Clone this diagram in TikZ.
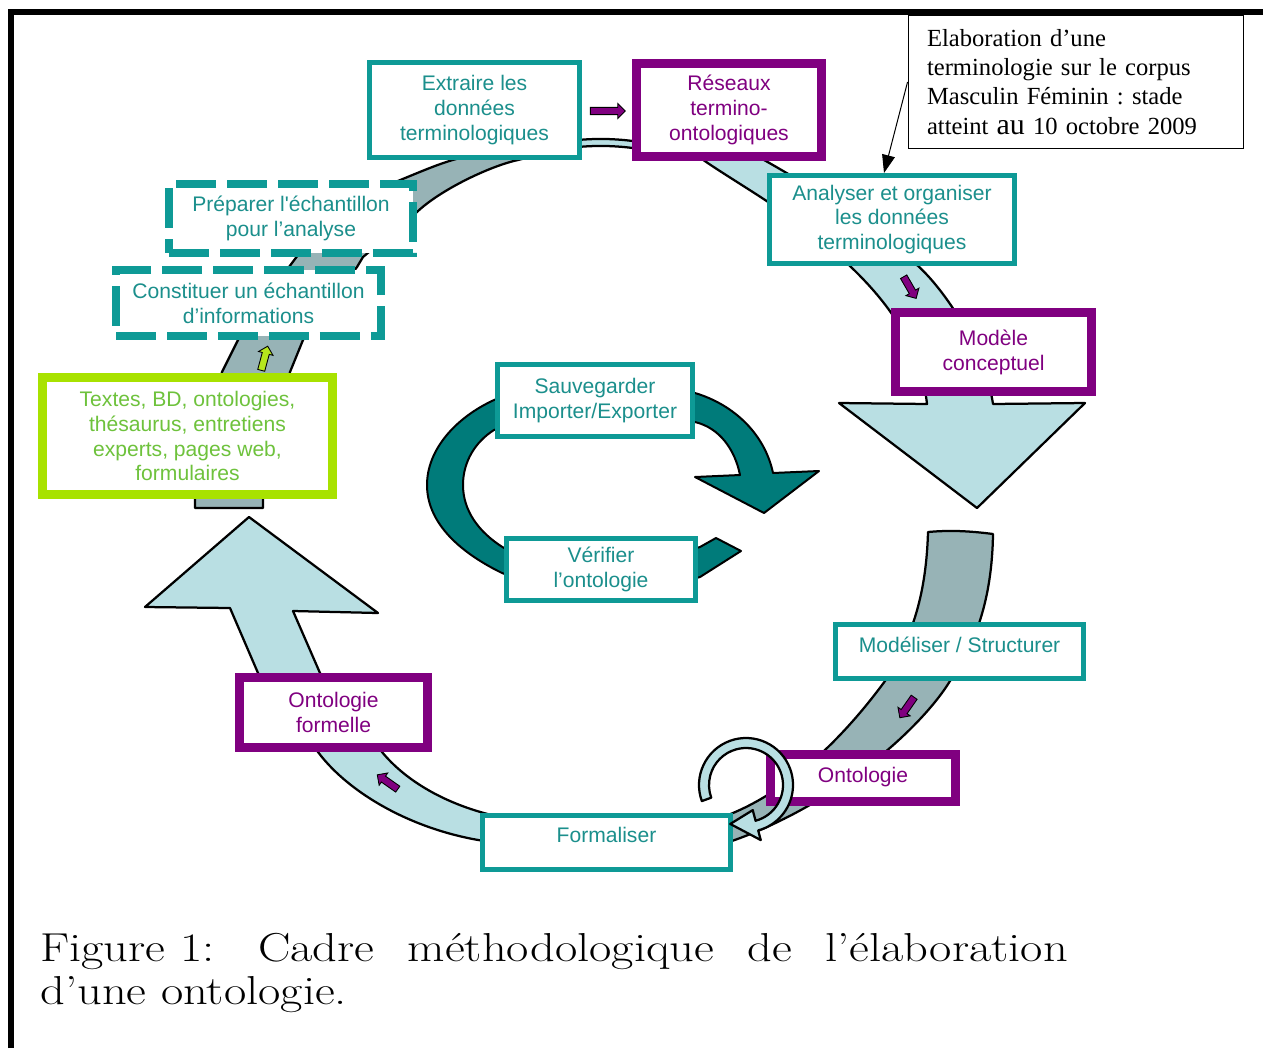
\documentclass[tikz,border=0pt]{standalone}
\usepackage{fontspec}
\newfontfamily\arialf{Liberation Sans}
\newfontfamily\timesf{Liberation Serif}
\usetikzlibrary{arrows.meta, positioning, shapes.arrows, calc}
\definecolor{tealb}{HTML}{0E9A96}
\definecolor{tealt}{HTML}{1B8F8C}
\definecolor{purp}{HTML}{800080}
\definecolor{limeb}{HTML}{A8E200}
\definecolor{limet}{HTML}{6EC23C}
\definecolor{bandgrey}{HTML}{97B3B6}
\definecolor{bandblue}{HTML}{B9DFE3}
\definecolor{ringteal}{HTML}{007B7A}
\definecolor{yarr}{HTML}{B5E61D}
\begin{document}
\begin{tikzpicture}[x=0.02cm, y=-0.02cm,
    tbox/.style={draw=tealb, line width=0.1cm, fill=white, text=tealt, align=center, inner sep=0pt, font=\arialf\fontsize{12}{14.2}\selectfont},
    pbox/.style={tbox, draw=purp, line width=0.18cm, text=purp},
    dbox/.style={tbox, line width=0.16cm, dash pattern=on 0.8cm off 0.22cm},
    gbox/.style={tbox, draw=limeb, line width=0.18cm, text=limet},
    gband/.style={fill=bandgrey, draw=black, line width=0.045cm, line join=round},
    lband/.style={gband, fill=bandblue},
    smallarr/.style={single arrow, draw=black, line width=0.5pt, fill=purp, inner sep=1.6pt, minimum height=0.5cm, minimum width=0.3cm, single arrow head extend=2pt}]

    \useasboundingbox (0,0) rectangle (1263,1048);

    \filldraw[gband] (195,508) -- (195,490) -- (222,372) -- (238,340) -- (289,267) -- (298,255)
        .. controls (330,215) and (365,195) .. (393,183) .. controls (420,172) and (440,163) .. (460,158)
        -- (540,142) -- (550,152) -- (518,160) .. controls (490,166) and (440,190) .. (417,212)
        -- (363,257) -- (357,267) -- (303,340) -- (290,372) -- (263,490) -- (263,508) -- cycle;
    \filldraw[lband] (578,140) .. controls (600,138) and (620,139) .. (640,142) -- (640,149)
        .. controls (620,146) and (600,145) .. (578,147) -- cycle;
    \filldraw[lband] (690,150) .. controls (720,175) and (800,215) .. (851,267)
        .. controls (880,295) and (920,340) .. (927,404) -- (839,403) -- (977,508) -- (1085,403) -- (993,404)
        .. controls (985,350) and (945,290) .. (917,265) .. controls (870,225) and (810,185) .. (755,155) -- cycle;
    \filldraw[gband] (928,532) .. controls (950,530) and (970,531) .. (993,534)
        .. controls (992,600) and (975,645) .. (950,681) .. controls (920,730) and (830,810) .. (720,845)
        -- (720,818) .. controls (800,790) and (860,715) .. (885,681) .. controls (910,640) and (926,600) .. (928,532) -- cycle;
    \filldraw[lband] (500,843) .. controls (420,835) and (350,795) .. (318,752) -- (258,673) -- (230,608)
        -- (145,607) -- (249,517) -- (378,613) -- (293,611) -- (320,673) -- (382,752)
        .. controls (405,780) and (445,805) .. (500,817) -- cycle;

    \filldraw[draw=black, line width=0.04cm, fill=ringteal, line join=round]
        (700,577) .. controls (640,595) and (560,595) .. (502,573)
        .. controls (455,550) and (427,520) .. (427,485) .. controls (427,450) and (455,418) .. (494,400)
        .. controls (540,380) and (640,378) .. (695,393) .. controls (735,405) and (765,435) .. (773,473)
        -- (819,471) -- (764,513) -- (695,477) -- (740,475)
        .. controls (735,450) and (720,428) .. (695,422) .. controls (640,410) and (540,415) .. (494,430)
        .. controls (475,442) and (463,462) .. (463,485) .. controls (463,510) and (478,532) .. (504,548)
        .. controls (560,565) and (640,565) .. (700,547) -- (716,538) -- (741,551) -- cycle;

    \node (Ext) [tbox, minimum width=4.2cm, minimum height=1.9cm] at (474.5,110) {Extraire les\\données\\terminologiques};
    \node (Res) [pbox, minimum width=3.7cm, minimum height=1.86cm] at (729,110) {Réseaux\\termino-\\ontologiques};
    \node (Ana) [tbox, minimum width=4.9cm, minimum height=1.76cm] at (892,219.5) {Analyser et organiser\\les données\\terminologiques};
    \node (Mod) [pbox, minimum width=3.92cm, minimum height=1.58cm] at (993.5,352) {Modèle\\conceptuel};
    \node (Struc) [tbox, minimum width=4.96cm, minimum height=1.08cm, text depth=0.29cm] at (959.5,651.5) {Modéliser / Structurer};
    \node (Onto) [pbox, minimum width=3.72cm, minimum height=0.94cm] at (863,777.5) {Ontologie};
    \node (Form) [tbox, minimum width=4.96cm, minimum height=1.08cm, text depth=0.29cm] at (606.5,842.5) {Formaliser};
    \node (OntF) [pbox, minimum width=3.76cm, minimum height=1.4cm] at (333.5,712.5) {Ontologie\\formelle};
    \node (Txt) [gbox, minimum width=5.8cm, minimum height=2.34cm] at (187.5,436) {Textes, BD, ontologies,\\thésaurus, entretiens\\experts, pages web,\\formulaires};
    \node (Const) [dbox, minimum width=5.3cm, minimum height=1.32cm] at (248.5,303) {Constituer un échantillon\\d’informations};
    \node (Prep) [dbox, minimum width=4.88cm, minimum height=1.38cm] at (291,218.5) {Préparer l'échantillon\\pour l’analyse};
    \node (Sauv) [tbox, minimum width=3.9cm, minimum height=1.44cm] at (595,400.5) {Sauvegarder\\Importer/Exporter};
    \node (Verif) [tbox, minimum width=3.78cm, minimum height=1.24cm] at (601,569.5) {Vérifier\\l’ontologie};

    \node (a1) [smallarr, minimum height=0.7cm] at (606,111) {};
    \node (a2) [smallarr, rotate=-60] at (909,286) {};
    \node (a3) [smallarr, rotate=-125] at (908,706) {};
    \node (a4) [smallarr, rotate=145] at (389,783) {};
    \node (a5) [smallarr, fill=yarr, rotate=75] at (264,360) {};

    \coordinate (cc) at (746,785);
    \filldraw[fill=bandblue, draw=black, line width=0.045cm, line join=round] ($(cc)+(160:47)$) arc[start angle=160, end angle=435, radius=47]
        -- ($(cc)+(435:57)$) -- ($(cc)+(112:42)$) -- ($(cc)+(435:26)$) -- ($(cc)+(435:37)$)
        arc[start angle=435, end angle=160, radius=37] -- cycle;

    \node (Note) [draw=black, line width=0.02cm, fill=white, minimum width=6.72cm, minimum height=2.68cm, text width=5.96cm, inner xsep=0.38cm, align=left, font=\timesf\frenchspacing\fontsize{14}{16.5}\selectfont] at (1076,82)
        {Elaboration d’une\\terminologie sur le corpus\\Masculin Féminin : stade\\[1pt]atteint {\fontsize{17}{17}\selectfont au} 10 octobre 2009};
    \draw[-{Triangle[length=0.36cm, width=0.26cm]}, line width=0.02cm] (Note.west) -- ([xshift=-0.16cm]Ana.north);

    \node (Cap1) [anchor=base west, inner sep=0pt, font=\fontsize{23}{27}\selectfont] at (40,961)
        {\scalebox{1.2}[1]{\makebox[17.13cm][s]{Figure\hspace{0.3em}1:\hspace{0.9em}Cadre méthodologique de l'élaboration}}};
    \node (Cap2) [anchor=base west, inner sep=0pt, font=\fontsize{23}{27}\selectfont] at (40,1004)
        {\scalebox{1.2}[1]{d’une ontologie.}};

    \draw[line width=0.11cm] (11,1048) -- (11,12) -- (1263,12);
\end{tikzpicture}
\end{document}
